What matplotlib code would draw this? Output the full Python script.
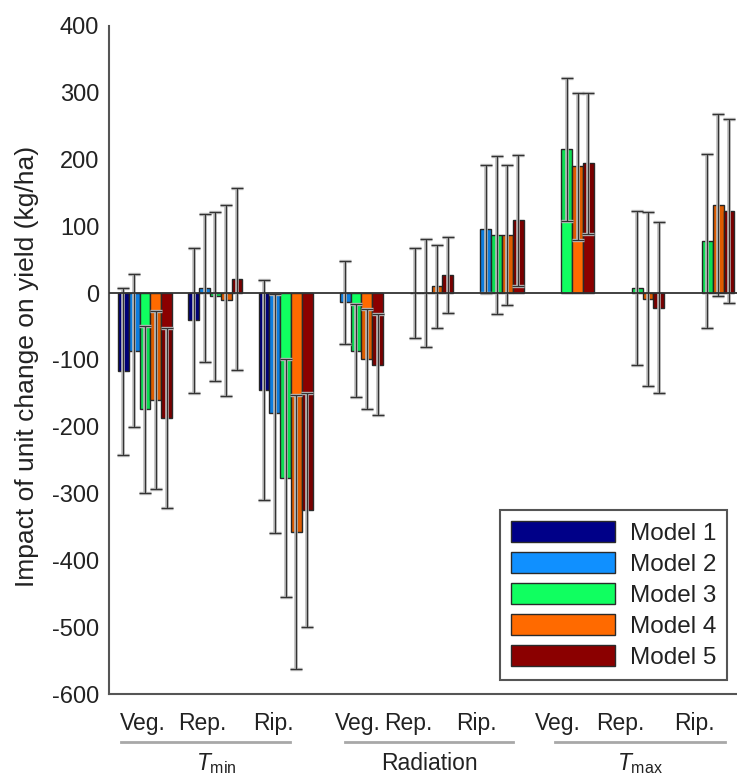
import numpy as np
import matplotlib.pyplot as plt

plt.rcParams['font.family'] = ['Liberation Sans', 'DejaVu Sans']
plt.rcParams['mathtext.fontset'] = 'custom'
plt.rcParams['mathtext.rm'] = 'Liberation Sans'
plt.rcParams['mathtext.it'] = 'Liberation Sans:italic'
plt.rcParams['axes.unicode_minus'] = False

# 9 groups: Tmin (Veg, Rep, Rip), Radiation (Veg, Rep, Rip), Tmax (Veg, Rep, Rip)
stages = ["Veg.", "Rep.", "Rip."] * 3
variables = [r"$\mathit{T}_{\mathrm{min}}$", "Radiation", r"$\mathit{T}_{\mathrm{max}}$"]
models = ["Model 1", "Model 2", "Model 3", "Model 4", "Model 5"]
colors = ["#000088", "#1090ff", "#10ff60", "#ff6a00", "#8b0000"]

nan = np.nan
model1 = [-117, -41, -145, nan, nan, nan, nan, nan, nan]
model2 = [-86, 8, -180, -14, 0, 96, nan, nan, nan]
model3 = [-174, -5, -276, -86, 0, 87, 215, 8, 78]
model4 = [-160, -11, -358, -99, 10, 87, 190, -9, 132]
model5 = [-187, 21, -324, -107, 27, 109, 194, -22, 123]

err1 = [125, 108, 165, nan, nan, nan, nan, nan, nan]
err2 = [115, 111, 179, 62, 67, 96, nan, nan, nan]
err3 = [125, 126, 178, 70, 81, 118, 107, 115, 130]
err4 = [133, 143, 205, 75, 62, 105, 110, 130, 136]
err5 = [135, 136, 175, 75, 57, 98, 106, 128, 138]

values = [model1, model2, model3, model4, model5]
errors = [err1, err2, err3, err4, err5]

# text positions for the stage / variable labels under the axis
stage_x = [-0.03, 0.81, 1.83, 3.02, 3.74, 4.72, 5.87, 6.76, 7.82]
var_x = [1.01, 4.04, 7.04]
var_span = [(-0.34, 2.06), (2.84, 5.23), (5.83, 8.25)]

fig = plt.figure(figsize=(7.37, 7.79), dpi=100)
ax = fig.add_axes([0.148, 0.109, 0.852, 0.858])

x = np.arange(9)
w = 0.1536
for m in range(5):
    v = np.array(values[m], dtype=float)
    e = np.array(errors[m], dtype=float)
    xm = x + (m - 2) * w
    ax.bar(xm, v, width=w, color=colors[m], edgecolor="#2a2a2a", linewidth=1.0,
           label=models[m], zorder=2)
    # part of the bar covered by the error bar looks slightly darker
    inner = np.where(np.abs(v) > e, v - np.sign(v) * e, 0)
    ax.bar(xm, v - inner, bottom=inner, width=w, color="black", alpha=0.13,
           linewidth=0, zorder=3)
    ax.errorbar(xm, v, yerr=e, fmt="none", ecolor="#bdbdbd", elinewidth=2.6,
                capsize=4.3, capthick=2.4, zorder=4)
    ax.errorbar(xm, v, yerr=e, fmt="none", ecolor="#333333", elinewidth=0.9,
                capsize=4.0, capthick=0.9, zorder=5)

ax.axhline(0, color="#333333", linewidth=1.3, zorder=6)

ax.set_xlim(-0.512, 8.42)
ax.set_ylim(-600, 400)
ax.set_yticks(np.arange(-600, 401, 100))
ax.tick_params(axis="y", length=0, pad=7, labelsize=17, labelcolor="#222222")
ax.set_xticks([])
for s in ["top", "right"]:
    ax.spines[s].set_visible(False)
for s in ["left", "bottom"]:
    ax.spines[s].set_color("#555555")
    ax.spines[s].set_linewidth(1.5)

ax.set_ylabel("Impact of unit change on yield (kg/ha)", fontsize=19, color="#222222")
ax.yaxis.set_label_coords(-0.112, 0.49)

tr = ax.get_xaxis_transform()
for sx, lab in zip(stage_x, stages):
    ax.text(sx, -0.054, lab, transform=tr, ha="center", va="baseline",
            fontsize=16.5, color="#222222", clip_on=False)
for (a, b), vx, lab in zip(var_span, var_x, variables):
    ax.plot([a, b], [-0.072, -0.072], transform=tr, color="#a8a8a8",
            linewidth=2, clip_on=False)
    ax.text(vx, -0.114, lab, transform=tr, ha="center", va="baseline",
            fontsize=16.5, color="#222222", clip_on=False)

leg = ax.legend(loc="lower right", bbox_to_anchor=(0.984, 0.021), fontsize=17.5,
                handlelength=4.3, handleheight=0.95, labelspacing=0.3,
                fancybox=False, framealpha=1, edgecolor="#555555",
                borderpad=0.45, handletextpad=0.6, borderaxespad=0)
leg.get_frame().set_linewidth(1.5)
for t in leg.get_texts():
    t.set_color("#222222")

plt.savefig("out.png", dpi=100)
